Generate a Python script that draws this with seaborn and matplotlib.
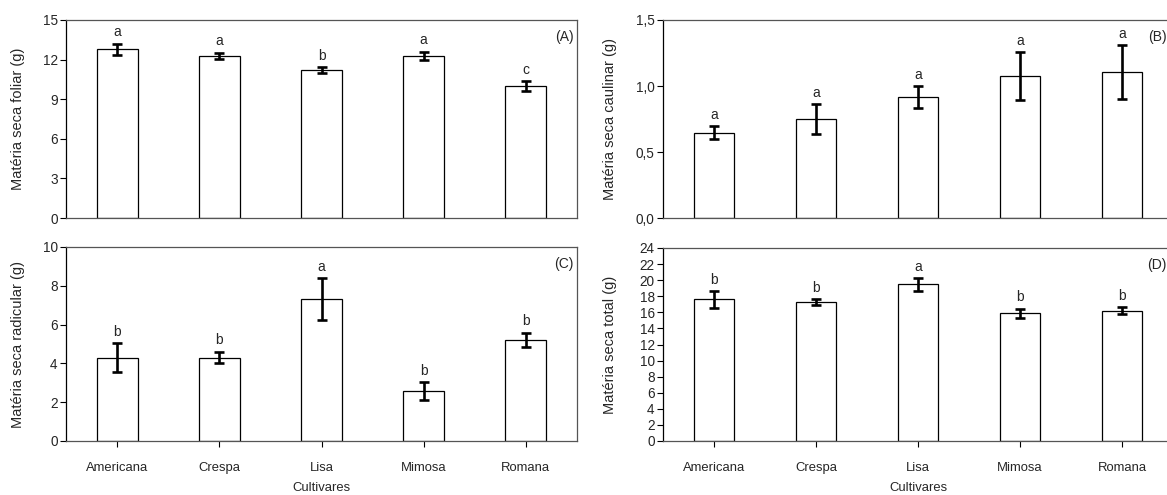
import matplotlib
matplotlib.use("Agg")
import matplotlib.pyplot as plt
import seaborn as sns
import numpy as np
import pandas as pd
from matplotlib.ticker import FuncFormatter, FixedLocator

sns.set_theme(style="white")
plt.rcParams['font.family'] = ['Liberation Sans', 'DejaVu Sans']

cultivares = ["Americana", "Crespa", "Lisa", "Mimosa", "Romana"]

foliar = [12.78, 12.30, 11.20, 12.30, 10.00]
foliar_err = [0.42, 0.22, 0.21, 0.31, 0.37]
foliar_letters = ["a", "a", "b", "a", "c"]

caulinar = [0.645, 0.749, 0.918, 1.075, 1.103]
caulinar_err = [0.05, 0.112, 0.083, 0.18, 0.205]
caulinar_letters = ["a", "a", "a", "a", "a"]

radicular = [4.30, 4.30, 7.32, 2.58, 5.22]
radicular_err = [0.76, 0.30, 1.07, 0.46, 0.36]
radicular_letters = ["b", "b", "a", "b", "b"]

total = [17.6, 17.3, 19.5, 15.9, 16.2]
total_err = [1.05, 0.35, 0.8, 0.55, 0.42]
total_letters = ["b", "b", "a", "b", "b"]

fig = plt.figure(figsize=(11.67, 4.95), dpi=100)
W, H = 1167.0, 495.0

def rect(left, top, right, bottom):
    return [left / W, 1 - bottom / H, (right - left) / W, (bottom - top) / H]

panels = [
    dict(vals=foliar, err=foliar_err, let=foliar_letters, pos=rect(66, 20, 577, 218),
         ylim=(0, 15), ticks=[0, 3, 6, 9, 12, 15], ylabel="Matéria seca foliar (g)",
         tag="(A)", bottom=False, dec=False, ylx=-0.080, tagx=0.993),
    dict(vals=caulinar, err=caulinar_err, let=caulinar_letters, pos=rect(663, 20, 1173, 218),
         ylim=(0, 1.5), ticks=[0, 0.5, 1.0, 1.5], ylabel="Matéria seca caulinar (g)",
         tag="(B)", bottom=False, dec=True, ylx=-0.090, tagx=0.988),
    dict(vals=radicular, err=radicular_err, let=radicular_letters, pos=rect(66, 247, 577, 441),
         ylim=(0, 10), ticks=[0, 2, 4, 6, 8, 10], ylabel="Matéria seca radicular (g)",
         tag="(C)", bottom=True, dec=False, ylx=-0.080, tagx=0.993),
    dict(vals=total, err=total_err, let=total_letters, pos=rect(663, 248, 1173, 441),
         ylim=(0, 24), ticks=list(range(0, 25, 2)), ylabel="Matéria seca total (g)",
         tag="(D)", bottom=True, dec=False, ylx=-0.090, tagx=0.988),
]

fs = 9.4      # horizontal texts
fs_y = 10.5   # rotated axis titles
for p in panels:
    ax = fig.add_axes(p["pos"])
    df = pd.DataFrame({"Cultivar": cultivares, "Valor": p["vals"]})
    sns.barplot(data=df, x="Cultivar", y="Valor", ax=ax, color="white",
                edgecolor="black", linewidth=0.9, width=0.4, errorbar=None,
                saturation=1)
    xs = np.arange(len(cultivares))
    ax.errorbar(xs, p["vals"], yerr=p["err"], fmt="none", ecolor="black",
                elinewidth=1.9, capsize=3.5, capthick=1.9)
    span = p["ylim"][1] - p["ylim"][0]
    for x, v, e, l in zip(xs, p["vals"], p["err"], p["let"]):
        ax.text(x, v + e + span * 0.022, l, ha="center", va="bottom", fontsize=fs + 0.6)
    ax.set_xlim(-0.5, 4.5)
    ax.set_ylim(*p["ylim"])
    ax.yaxis.set_major_locator(FixedLocator(p["ticks"]))
    if p["dec"]:
        ax.yaxis.set_major_formatter(FuncFormatter(lambda v, pos: f"{v:.1f}".replace(".", ",")))
    else:
        ax.yaxis.set_major_formatter(FuncFormatter(lambda v, pos: f"{v:g}"))
    ax.tick_params(axis="y", direction="out", length=4, width=0.8, color="black",
                   labelsize=fs + 0.4, pad=2, left=True)
    if p["bottom"]:
        ax.tick_params(axis="x", direction="out", length=4, width=0.8, color="black",
                       labelsize=fs, pad=11, bottom=True)
        ax.set_xlabel("Cultivares", fontsize=fs, labelpad=6)
    else:
        ax.tick_params(axis="x", bottom=False, labelbottom=False)
        ax.set_xlabel("")
    ax.set_ylabel(p["ylabel"], fontsize=fs_y)
    ax.yaxis.set_label_coords(p["ylx"], 0.5)
    for s in ["top", "right", "bottom"]:
        ax.spines[s].set_visible(True)
        ax.spines[s].set_color("#555555")
        ax.spines[s].set_linewidth(0.9)
    ax.spines["left"].set_color("black")
    ax.spines["left"].set_linewidth(0.9)
    ax.text(p["tagx"], 0.95, p["tag"], transform=ax.transAxes, ha="right", va="top", fontsize=fs + 0.6)
    ax.set_facecolor("white")

fig.savefig("out.png", dpi=100, facecolor="white")
